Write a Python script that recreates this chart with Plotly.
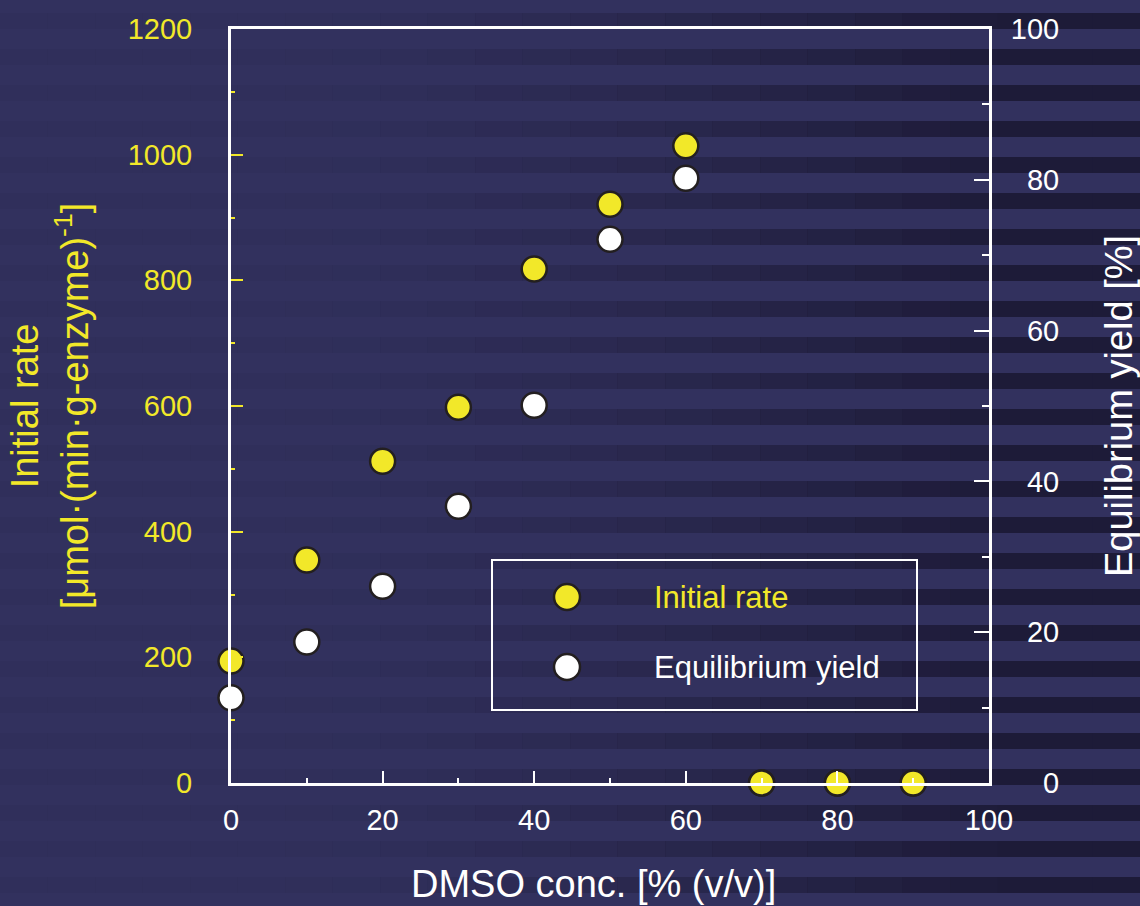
import plotly.graph_objects as go

# ---- data ----
dmso = [0, 10, 20, 30, 40, 50, 60, 70, 80, 90]
initial_rate = [194, 355, 512, 598, 818, 921, 1014, 0, 0, 0]
eq_yield = [11.3, 18.7, 26.1, 36.7, 50.1, 72.1, 80.2, 0, 0, 0]

x_ticks = [0, 20, 40, 60, 80, 100]
rate_ticks = [0, 200, 400, 600, 800, 1000, 1200]
yield_ticks = [0, 20, 40, 60, 80, 100]
series_names = ["Initial rate", "Equilibrium yield"]

YELLOW = "#F2E829"
WHITE = "#FFFFFF"
EDGE = "#231F20"
BG = "rgb(50,49,94)"
STRIPE = "rgb(29,27,56)"
FONT = "Liberation Sans, Arial, sans-serif"

W, H = 1140, 906
L, R, T, B = 231, 989, 29, 783


def px2paper_x(p):
    return (p - L) / (R - L)


def px2paper_y(p):
    return (B - p) / (B - T)


fig = go.Figure()

fig.add_trace(go.Scatter(
    x=dmso, y=eq_yield, mode="markers", name=series_names[1],
    yaxis="y", showlegend=False,
    marker=dict(size=25, color=WHITE, line=dict(color=EDGE, width=2.5)),
    cliponaxis=False,
))
fig.add_trace(go.Scatter(
    x=dmso, y=initial_rate, mode="markers", name=series_names[0],
    yaxis="y2", showlegend=False,
    marker=dict(size=25, color=YELLOW, line=dict(color=EDGE, width=2.5)),
    cliponaxis=False,
))

# background stripes fading in from left to right
shapes = []
ncol = 24
colw = W / ncol
for c in range(ncol):
    xa = c * colw
    xb = xa + colw + 0.5
    xm = (xa + xb) / 2
    op = 0.07 + 0.93 * min(1.0, max(0.0, (xm - 280) / 720)) ** 1.5
    parts = []
    for k in range(26):
        ya = 13 + 36 * k
        yb = ya + 16
        X0, X1 = px2paper_x(xa), px2paper_x(xb)
        Y0, Y1 = px2paper_y(ya), px2paper_y(yb)
        parts.append(f"M{X0},{Y0} L{X1},{Y0} L{X1},{Y1} L{X0},{Y1} Z")
    shapes.append(dict(type="path", xref="paper", yref="paper", path=" ".join(parts),
                       fillcolor=STRIPE, line=dict(width=0), opacity=op, layer="below"))

# legend box (drawn by hand so the symbols can match the marker size)
shapes.append(dict(type="rect", xref="paper", yref="paper",
                   x0=px2paper_x(492), x1=px2paper_x(917),
                   y0=px2paper_y(560), y1=px2paper_y(710),
                   line=dict(color=WHITE, width=2), fillcolor="rgba(0,0,0,0)", layer="above"))
annotations = []
legend_rows = [(597, YELLOW, YELLOW), (667, WHITE, WHITE)]
for name, (ypx, fill, tcol) in zip(series_names, legend_rows):
    r = 13
    shapes.append(dict(type="circle", xref="paper", yref="paper",
                       x0=px2paper_x(567 - r), x1=px2paper_x(567 + r),
                       y0=px2paper_y(ypx + r), y1=px2paper_y(ypx - r),
                       fillcolor=fill, line=dict(color=EDGE, width=2.5), layer="above"))
    annotations.append(dict(text=name, xref="paper", yref="paper",
                            x=px2paper_x(652), y=px2paper_y(ypx),
                            xanchor="left", yanchor="middle", showarrow=False,
                            font=dict(size=31, color=tcol, family=FONT)))

# x-axis title (placed slightly left of centre, as in the reference)
annotations.append(dict(text="DMSO conc. [% (v/v)]", xref="paper", yref="paper",
                        x=px2paper_x(593), y=px2paper_y(884),
                        xanchor="center", yanchor="middle", showarrow=False,
                        font=dict(size=38, color=WHITE, family=FONT)))

fig.update_layout(
    width=W, height=H,
    margin=dict(l=L, r=W - R, t=T, b=H - B, autoexpand=False),
    paper_bgcolor=BG, plot_bgcolor="rgba(0,0,0,0)",
    font=dict(family=FONT, color=WHITE, size=29),
    shapes=shapes, annotations=annotations,
    showlegend=False,
    xaxis=dict(
        range=[0, 100], tickvals=x_ticks, ticks="inside", ticklen=12, tickwidth=2,
        tickcolor=WHITE, showline=True, linecolor=WHITE, linewidth=3, mirror=True,
        showgrid=False, zeroline=False, ticklabelstandoff=9, automargin=False,
        minor=dict(dtick=10, ticks="inside", ticklen=5, tickwidth=2, tickcolor=WHITE, showgrid=False),
        tickfont=dict(size=29, color=WHITE),
    ),
    yaxis=dict(
        range=[0, 100], tickvals=yield_ticks,
        ticktext=["\u2007\u20070", "\u200720", "\u200740", "\u200760", "\u200780", "100"],
        side="right", ticks="inside", ticklen=15, tickwidth=2, tickcolor=WHITE,
        showline=True, linecolor=WHITE, linewidth=3, showgrid=False, zeroline=False,
        automargin=False,
        minor=dict(dtick=10, ticks="inside", ticklen=7, tickwidth=2, tickcolor=WHITE, showgrid=False),
        ticklabelstandoff=13, tickfont=dict(size=29, color=WHITE),
        title=dict(text="Equilibrium yield [%]", font=dict(size=38, color=WHITE), standoff=49),
    ),
    yaxis2=dict(
        range=[0, 1200], tickvals=rate_ticks, overlaying="y", side="left",
        ticks="inside", ticklen=12, tickwidth=2, tickcolor=YELLOW,
        showline=True, linecolor=WHITE, linewidth=3, showgrid=False, zeroline=False,
        automargin=False,
        minor=dict(dtick=100, ticks="inside", ticklen=4, tickwidth=2, tickcolor=YELLOW, showgrid=False),
        ticklabelstandoff=30, tickfont=dict(size=29, color=YELLOW),
        title=dict(text="Initial rate<br>[μmol·(min·g-enzyme)<sup>-1</sup>]",
                   font=dict(size=38, color=YELLOW), standoff=28),
    ),
)

fig.write_html("out.html", config={"displayModeBar": False},
               post_script="document.body.style.margin='0';")
